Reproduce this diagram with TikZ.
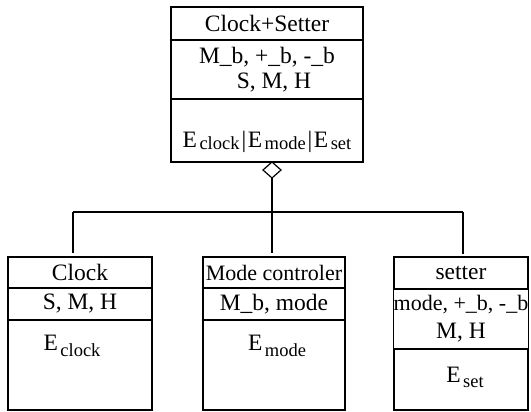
\documentclass[tikz,border=0pt]{standalone}
\usepackage{fontspec}
\setmainfont{Liberation Serif}
\usetikzlibrary{shapes.geometric}
\newcommand{\sbx}[2][0pt]{\hspace{2.5pt}\raisebox{-#1}{\fontsize{18.5}{18.5}\selectfont #2}}
\begin{document}
\begin{tikzpicture}[x=1pt,y=-1pt,
  every node/.style={font=\fontsize{23.5}{25}\selectfont},
  cell/.style={draw, line width=1.4pt, rectangle, inner sep=0pt, outer sep=0pt, align=center},
  lbl/.style={inner sep=0pt, anchor=base},
  link/.style={line width=1.4pt},
  agg/.style={draw, line width=1.2pt, diamond, inner sep=0pt, outer sep=0pt, minimum width=18pt, minimum height=16pt, fill=white}]
\useasboundingbox (0,0) rectangle (531,412);
% top box
\node[cell, minimum width=192pt, minimum height=33pt] (topT) at (267,23.5) {Clock+Setter};
\node[cell, minimum width=192pt, minimum height=59pt] (topA) at (267,69.5) {M\_b, +\_b, -\_b\\\hspace*{14pt}S, M, H};
\node[cell, minimum width=192pt, minimum height=63pt] (topB) at (267,130.5) {};
\node[lbl] (topE) at (267,147) {E\sbx[2pt]{clock}\hspace{2pt}|\hspace{1.5pt}E\sbx[2pt]{mode}\hspace{2pt}|\hspace{1.5pt}E\sbx[2pt]{set}};
% clock
\node[cell, minimum width=144pt, minimum height=31pt] (clkT) at (80,272.5) {Clock};
\node[cell, minimum width=144pt, minimum height=32pt] (clkA) at (80,304) {S, M, H};
\node[cell, minimum width=144pt, minimum height=90pt] (clkB) at (80,365) {};
\node[lbl] (clkE) at (72,350) {E\sbx[6pt]{clock}};
% mode controler
\node[cell, minimum width=142pt, minimum height=31pt, font=\fontsize{22}{25}\selectfont] (modT) at (274,272.5) {Mode controler};
\node[cell, minimum width=142pt, minimum height=32pt] (modA) at (274,304) {M\_b, mode};
\node[cell, minimum width=142pt, minimum height=90pt] (modB) at (274,365) {};
\node[lbl] (modE) at (277,350) {E\sbx[6pt]{mode}};
% setter
\node[cell, minimum width=134pt, minimum height=32pt] (setT) at (461,273) {setter};
\node[cell, minimum width=134pt, minimum height=60pt, font=\fontsize{22}{28}\selectfont] (setA) at (461,319) {mode, +\_b, -\_b\\\fontsize{23.5}{28}\selectfont M, H};
\node[cell, minimum width=134pt, minimum height=61pt] (setB) at (461,379.5) {};
\node[lbl] (setE) at (465,382) {E\sbx[5pt]{set}};
% aggregation
\node[agg, anchor=north] (dia) at (272,162) {};
\coordinate (jm) at (272,212);
\coordinate (jl) at (73,212);
\coordinate (jr) at (463,212);
\draw[link] (dia.south) -- (jm);
\draw[link] (jl) -- (jr);
\draw[link, shorten >=4pt] (jl) -- (jl |- clkT.north);
\draw[link, shorten >=4pt] (jm) -- (jm |- modT.north);
\draw[link, shorten >=3pt] (jr) -- (jr |- setT.north);
\end{tikzpicture}
\end{document}
